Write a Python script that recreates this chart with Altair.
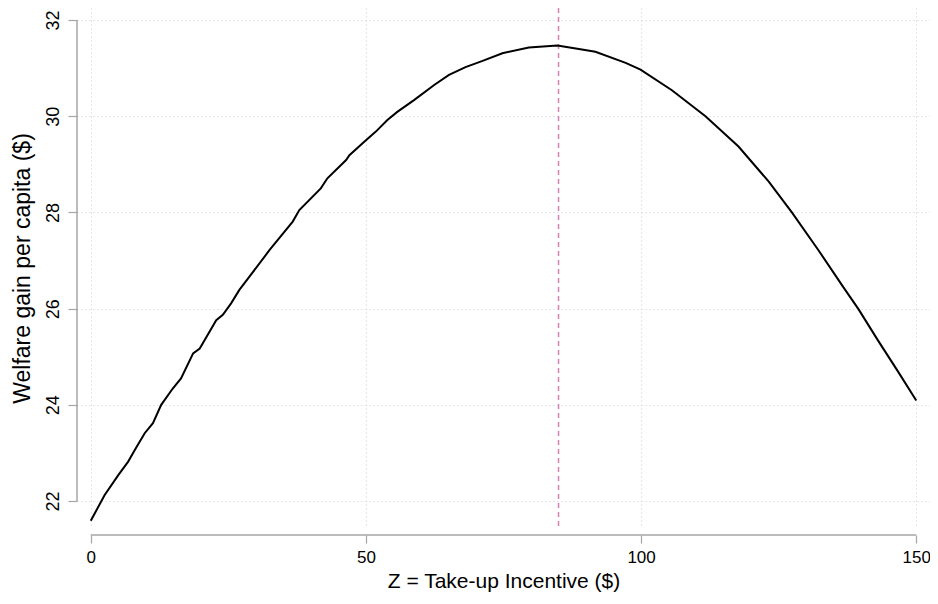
import altair as alt
import pandas as pd

# Data
z_vals = [0, 2.5, 5.0, 6.8, 8.0, 9.8, 11.3, 12.8, 14.9, 16.4, 18.6, 19.8, 22.8, 24.0,
          25.5, 27.0, 28.8, 32.5, 36.7, 37.9, 41.8, 43.0, 46.4, 47.0, 49.7, 51.8, 53.9,
          55.7, 58.8, 62.4, 65.1, 68.1, 71.2, 74.8, 79.6, 84.8, 88.7, 91.7, 97.2, 99.9,
          105.6, 111.7, 117.7, 123.2, 127.4, 132.2, 136.5, 139.5, 143.1, 146.7, 150]
welfare = [21.59, 22.12, 22.54, 22.82, 23.06, 23.41, 23.62, 24.00, 24.34, 24.55, 25.07,
           25.17, 25.76, 25.87, 26.11, 26.39, 26.66, 27.22, 27.81, 28.05, 28.50, 28.71,
           29.09, 29.19, 29.47, 29.68, 29.92, 30.09, 30.34, 30.65, 30.86, 31.02, 31.15,
           31.31, 31.43, 31.47, 31.40, 31.34, 31.11, 30.97, 30.54, 30.00, 29.37, 28.64,
           28.00, 27.22, 26.49, 25.99, 25.33, 24.69, 24.09]
optimum = [85]
x_ticks = [0, 50, 100, 150]
y_ticks = [22, 24, 26, 28, 30, 32]

FONT = "Liberation Sans"
AXIS_GRAY = "#a6a6a6"
GRID_GRAY = "#cfcfcf"

df = pd.DataFrame({"z": z_vals, "w": welfare})

xscale = alt.Scale(domain=[-2.5, 152.5], nice=False, zero=False)
yscale = alt.Scale(domain=[21.44, 32.25], nice=False, zero=False)

x_axis = alt.Axis(values=x_ticks, title="Z = Take-up Incentive ($)", domain=False,
                  grid=True, gridColor=GRID_GRAY, gridDash=[1, 3], gridWidth=1,
                  tickColor=AXIS_GRAY, tickSize=8, tickWidth=1.2, offset=7,
                  labelFont=FONT, labelFontSize=17, labelColor="black", labelPadding=6,
                  titleFont=FONT, titleFontSize=21, titleFontWeight="normal",
                  titleColor="black", titlePadding=5, labelFlush=False)
y_axis = alt.Axis(values=y_ticks, title="Welfare gain per capita ($)", domain=False,
                  grid=True, gridColor=GRID_GRAY, gridDash=[1, 3], gridWidth=1,
                  tickColor=AXIS_GRAY, tickSize=9, tickWidth=1.2, offset=0,
                  labelAngle=-90, labelAlign="center", labelBaseline="bottom",
                  labelFont=FONT, labelFontSize=18, labelColor="black", labelPadding=6,
                  titleFont=FONT, titleFontSize=23, titleFontWeight="normal",
                  titleColor="black", titlePadding=10, labelFlush=False)

line = alt.Chart(df).mark_line(color="black", strokeWidth=2).encode(
    x=alt.X("z:Q", scale=xscale, axis=x_axis),
    y=alt.Y("w:Q", scale=yscale, axis=y_axis),
    order="z:Q",
)

opt = alt.Chart(pd.DataFrame({"z": optimum})).mark_rule(
    color="#d184b0", strokeDash=[5, 4], strokeWidth=1.5
).encode(x=alt.X("z:Q", scale=xscale))

yline = alt.Chart(pd.DataFrame({"a": [0]})).mark_rule(
    color=AXIS_GRAY, strokeWidth=1.5
).encode(x=alt.value(0), y=alt.datum(y_ticks[0], scale=yscale), y2=alt.datum(y_ticks[-1]))

xline = alt.Chart(pd.DataFrame({"a": [0]})).mark_rule(
    color=AXIS_GRAY, strokeWidth=1.5
).encode(y=alt.value(527), x=alt.datum(x_ticks[0], scale=xscale), x2=alt.datum(x_ticks[-1]))

chart = alt.layer(opt, line, yline, xline).properties(
    width=853, height=520,
    padding={"left": 69, "top": 0, "right": 0, "bottom": 64},
    autosize=alt.AutoSizeParams(type="none"),
    background="white",
).configure_view(stroke=None)

chart.save("out.html", embed_options={"renderer": "svg", "actions": False})
